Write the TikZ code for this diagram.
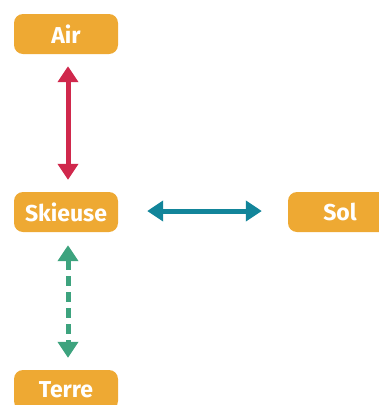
\documentclass[tikz,border=0pt]{standalone}
\usepackage{fontspec}
\setmainfont{Fira Sans}
\usetikzlibrary{arrows.meta}
\definecolor{boxorange}{HTML}{EEA933}
\definecolor{arrred}{HTML}{D0284C}
\definecolor{arrteal}{HTML}{12859A}
\definecolor{arrgreen}{HTML}{3DA37E}
\begin{document}
\begin{tikzpicture}[x=1pt,y=-1pt,
  boxnode/.style={fill=boxorange,rounded corners=9pt,minimum width=104pt,minimum height=40pt,
    text=white,font=\fontsize{23}{26}\selectfont\bfseries,inner sep=0pt},
  dbl/.style={line width=5pt,{Triangle[width=20pt,length=16pt]}-{Triangle[width=20pt,length=16pt]}}]
\useasboundingbox (0,0) rectangle (379,405);
\node[boxnode] (air) at (66,34) {Air};
\node[boxnode] (ski) at (66,212) {Skieuse};
\node[boxnode] (sol) at (340,212) {Sol};
\node[boxnode] (terre) at (66,390) {Terre};
\draw[dbl,arrred] ([yshift=-12pt]air.south -| 68,0) -- ([yshift=12pt]ski.north -| 68,0);
\draw[dbl,arrteal] ([xshift=29pt]ski.east |- 0,211) -- ([xshift=-26pt]sol.west |- 0,211);
\draw[dbl,arrgreen,dash pattern=on 10pt off 6pt] ([yshift=-13pt]ski.south -| 68,0) -- ([yshift=12pt]terre.north -| 68,0);
\end{tikzpicture}
\end{document}
